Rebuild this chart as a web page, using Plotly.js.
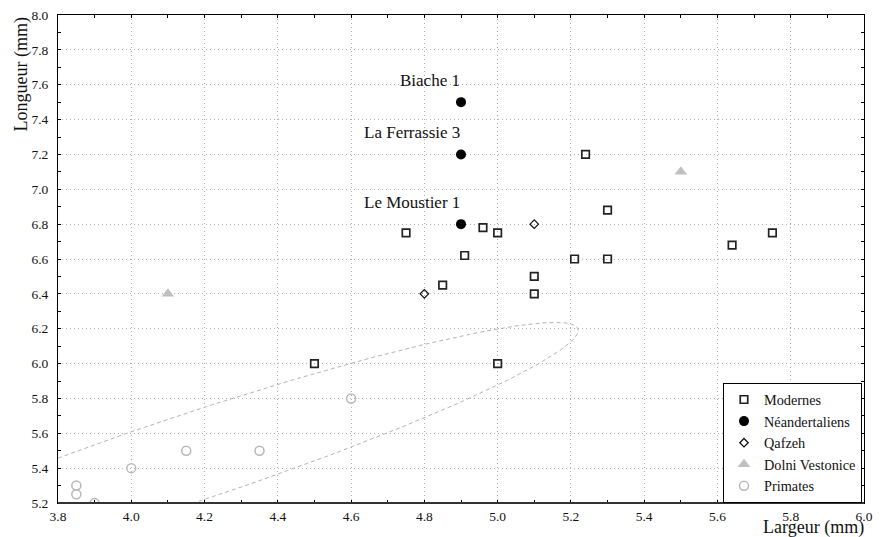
<!DOCTYPE html>
<html>
<head>
<meta charset="utf-8">
<script src="https://cdn.plot.ly/plotly-3.0.1.min.js"></script>
<style>
html,body{margin:0;padding:0;background:#fff;}
#chart{width:882px;height:537px;}
</style>
</head>
<body>
<div id="chart"></div>
<script>
// ---- Data ----
const seriesNames = ["Modernes", "Néandertaliens", "Qafzeh", "Dolni Vestonice", "Primates"];

const modernesX = [4.50, 5.00, 4.75, 4.85, 4.91, 4.96, 5.00, 5.10, 5.10, 5.21, 5.24, 5.30, 5.30, 5.64, 5.75];
const modernesY = [6.00, 6.00, 6.75, 6.45, 6.62, 6.78, 6.75, 6.50, 6.40, 6.60, 7.20, 6.88, 6.60, 6.68, 6.75];

const neanderX = [4.90, 4.90, 4.90];
const neanderY = [7.50, 7.20, 6.80];
const neanderLabels = ["Biache 1", "La Ferrassie 3", "Le Moustier 1"];

const qafzehX = [4.80, 5.10];
const qafzehY = [6.40, 6.80];

const dolniX = [4.10, 5.50];
const dolniY = [6.40, 7.10];

const primatesX = [3.85, 3.85, 3.90, 4.00, 4.15, 4.35, 4.60];
const primatesY = [5.30, 5.25, 5.20, 5.40, 5.50, 5.50, 5.80];

// Confidence ellipse (Primates): centre, conjugate semi-diameters
const ellipseCenter = [4.15, 5.45];
const ellipseMajor = [1.07, 0.74];
const ellipseMinorY = 0.265;

const xTickVals = [3.8, 4.0, 4.2, 4.4, 4.6, 4.8, 5.0, 5.2, 5.4, 5.6, 5.8, 6.0];
const yTickVals = [5.2, 5.4, 5.6, 5.8, 6.0, 6.2, 6.4, 6.6, 6.8, 7.0, 7.2, 7.4, 7.6, 7.8, 8.0];

// ---- Build ellipse outline ----
const ex = [], ey = [];
for (let i = 0; i <= 240; i++) {
  const t = 2 * Math.PI * i / 240;
  ex.push(ellipseCenter[0] + ellipseMajor[0] * Math.cos(t));
  ey.push(ellipseCenter[1] + ellipseMajor[1] * Math.cos(t) + ellipseMinorY * Math.sin(t));
}

const serif = "'Liberation Serif', 'Times New Roman', serif";

const traces = [
  {x: ex, y: ey, mode: 'lines', type: 'scatter', showlegend: false, hoverinfo: 'skip',
   line: {color: '#b4b4b4', width: 1, dash: '4px,3px'}},
  {x: modernesX, y: modernesY, name: seriesNames[0], mode: 'markers', type: 'scatter',
   marker: {symbol: 'square-open', size: 7.5, color: '#222', line: {width: 1.7, color: '#222'}}},
  {x: neanderX, y: neanderY, name: seriesNames[1], mode: 'markers', type: 'scatter',
   marker: {symbol: 'circle', size: 10, color: '#000'}},
  {x: qafzehX, y: qafzehY, name: seriesNames[2], mode: 'markers', type: 'scatter',
   marker: {symbol: 'diamond-open', size: 6.5, color: '#111', line: {width: 1.3, color: '#111'}}},
  {x: dolniX, y: dolniY, name: seriesNames[3], mode: 'markers', type: 'scatter',
   marker: {symbol: 'triangle-up', size: 11, color: '#c0c0c0'}},
  {x: primatesX, y: primatesY, name: seriesNames[4], mode: 'markers', type: 'scatter',
   marker: {symbol: 'circle-open', size: 9, color: '#b8b8b8', line: {width: 1.5, color: '#b8b8b8'}}}
];

const annotations = neanderLabels.map((txt, i) => ({
  x: neanderX[i], y: neanderY[i], xref: 'x', yref: 'y', text: txt, showarrow: false,
  xanchor: 'right', yanchor: 'middle', yshift: 22, xshift: 1,
  font: {family: serif, size: 17, color: '#111'}
}));

annotations.push({
  text: 'Longueur (mm)', xref: 'paper', yref: 'paper', x: -0.0453, y: 1.0,
  xanchor: 'center', yanchor: 'top', textangle: -90, showarrow: false,
  font: {family: serif, size: 18, color: '#111'}
});
annotations.push({
  text: 'Largeur (mm)', xref: 'paper', yref: 'paper', x: 1.003, y: -0.05,
  xanchor: 'right', yanchor: 'middle', showarrow: false,
  font: {family: serif, size: 18, color: '#111'}
});

const axisCommon = {
  showline: true, linecolor: '#000', linewidth: 1, mirror: 'allticks',
  ticks: 'inside', ticklen: 3, tickcolor: '#000', tickwidth: 1,
  showgrid: true, gridcolor: '#b0b0b0', gridwidth: 1, griddash: '1px,3px',
  zeroline: false, tickformat: '.1f',
  tickfont: {family: serif, size: 13.5, color: '#111'},
  minor: {ticks: 'inside', ticklen: 3, tickcolor: '#000', dtick: 0.1, showgrid: false}
};

const layout = {
  width: 882, height: 537,
  margin: {l: 58, r: 18, t: 15, b: 34},
  paper_bgcolor: '#fff', plot_bgcolor: '#fff',
  font: {family: serif, color: '#111'},
  xaxis: Object.assign({}, axisCommon, {range: [3.8, 6.0], tickmode: 'array', tickvals: xTickVals, ticklabelstandoff: 1}),
  yaxis: Object.assign({}, axisCommon, {range: [5.2, 8.0], tickmode: 'array', tickvals: yTickVals, ticklabelstandoff: 6}),
  legend: {
    x: 0.9975, y: 0.2465, xanchor: 'right', yanchor: 'top',
    bgcolor: '#fff', bordercolor: '#000', borderwidth: 1,
    font: {family: serif, size: 14.3, color: '#111'}, tracegroupgap: 0
  },
  shapes: [{type: 'line', xref: 'paper', yref: 'paper', x0: 0, x1: 1, y0: 0, y1: 0,
            line: {color: '#333', width: 2}}],
  annotations: annotations,
  showlegend: true
};

Plotly.newPlot('chart', traces, layout, {displayModeBar: false, staticPlot: true});
</script>
</body>
</html>
